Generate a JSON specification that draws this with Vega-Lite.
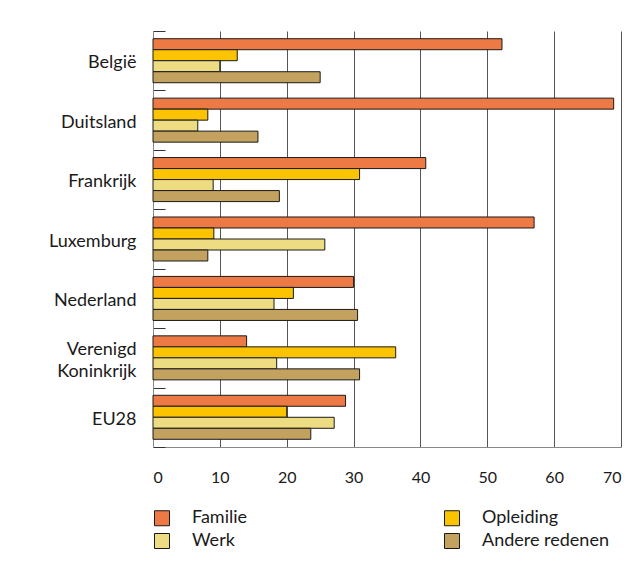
{
  "$schema": "https://vega.github.io/schema/vega-lite/v6.json",
  "autosize": {"type": "none"},
  "width": 468,
  "height": 416,
  "padding": {"left": 153, "top": 31, "right": 11, "bottom": 116},
  "background": "#ffffff",
  "config": {
    "font": "Lato",
    "view": {"stroke": null},
    "axis": {"labelFont": "Lato", "labelColor": "#1a1a1a"}
  },
  "data": {
    "values": [
      {"land": "België", "reden": "Familie", "pct": 52.2},
      {"land": "België", "reden": "Opleiding", "pct": 12.6},
      {"land": "België", "reden": "Werk", "pct": 10.0},
      {"land": "België", "reden": "Andere redenen", "pct": 25.0},
      {"land": "Duitsland", "reden": "Familie", "pct": 68.9},
      {"land": "Duitsland", "reden": "Opleiding", "pct": 8.2},
      {"land": "Duitsland", "reden": "Werk", "pct": 6.7},
      {"land": "Duitsland", "reden": "Andere redenen", "pct": 15.7},
      {"land": "Frankrijk", "reden": "Familie", "pct": 40.8},
      {"land": "Frankrijk", "reden": "Opleiding", "pct": 30.9},
      {"land": "Frankrijk", "reden": "Werk", "pct": 9.0},
      {"land": "Frankrijk", "reden": "Andere redenen", "pct": 18.9},
      {"land": "Luxemburg", "reden": "Familie", "pct": 57.0},
      {"land": "Luxemburg", "reden": "Opleiding", "pct": 9.1},
      {"land": "Luxemburg", "reden": "Werk", "pct": 25.7},
      {"land": "Luxemburg", "reden": "Andere redenen", "pct": 8.2},
      {"land": "Nederland", "reden": "Familie", "pct": 30.0},
      {"land": "Nederland", "reden": "Opleiding", "pct": 21.0},
      {"land": "Nederland", "reden": "Werk", "pct": 18.1},
      {"land": "Nederland", "reden": "Andere redenen", "pct": 30.6},
      {"land": "Verenigd Koninkrijk", "reden": "Familie", "pct": 14.0},
      {"land": "Verenigd Koninkrijk", "reden": "Opleiding", "pct": 36.3},
      {"land": "Verenigd Koninkrijk", "reden": "Werk", "pct": 18.5},
      {"land": "Verenigd Koninkrijk", "reden": "Andere redenen", "pct": 30.9},
      {"land": "EU28", "reden": "Familie", "pct": 28.8},
      {"land": "EU28", "reden": "Opleiding", "pct": 20.0},
      {"land": "EU28", "reden": "Werk", "pct": 27.1},
      {"land": "EU28", "reden": "Andere redenen", "pct": 23.6}
    ]
  },
  "mark": {"type": "bar", "stroke": "#1a1a1a", "strokeWidth": 1},
  "encoding": {
    "y": {
      "field": "land",
      "type": "nominal",
      "sort": ["België", "Duitsland", "Frankrijk", "Luxemburg", "Nederland", "Verenigd Koninkrijk", "EU28"],
      "scale": {"paddingInner": 0, "paddingOuter": 0},
      "axis": {
        "title": null,
        "tickBand": "extent",
        "tickSize": -12,
        "tickColor": "#333333",
        "domainColor": "#888888",
        "labelFontSize": 18,
        "labelPadding": 29,
        "labelLineHeight": 22,
        "labelOffset": {"condition": {"test": "datum.value == 'Verenigd Koninkrijk'", "value": -8}, "value": 2},
        "labelExpr": "datum.value == 'Verenigd Koninkrijk' ? ['Verenigd', 'Koninkrijk'] : datum.value"
      }
    },
    "yOffset": {
      "field": "reden",
      "type": "nominal",
      "sort": ["Familie", "Opleiding", "Werk", "Andere redenen"],
      "scale": {"paddingInner": 0, "paddingOuter": 0.7}
    },
    "x": {
      "field": "pct",
      "type": "quantitative",
      "scale": {"domain": [0, 70], "nice": false},
      "axis": {
        "title": null,
        "values": [0, 10, 20, 30, 40, 50, 60, 70],
        "grid": true,
        "gridColor": "#555555",
        "gridWidth": 1,
        "ticks": false,
        "domainColor": "#888888",
        "labelFontSize": 16,
        "labelPadding": 22
      }
    },
    "color": {
      "field": "reden",
      "type": "nominal",
      "scale": {
        "domain": ["Familie", "Werk", "Opleiding", "Andere redenen"],
        "range": ["#ED7A45", "#EEDC82", "#FCC400", "#C3A15E"]
      },
      "legend": {
        "title": null,
        "orient": "none",
        "legendX": 0,
        "legendY": 478,
        "columns": 2,
        "columnPadding": 194,
        "rowPadding": 3,
        "symbolType": "square",
        "symbolSize": 225,
        "symbolStrokeColor": "#1a1a1a",
        "symbolStrokeWidth": 1,
        "symbolOpacity": 1,
        "labelFontSize": 18,
        "labelOffset": 21,
        "labelColor": "#1a1a1a"
      }
    }
  }
}
